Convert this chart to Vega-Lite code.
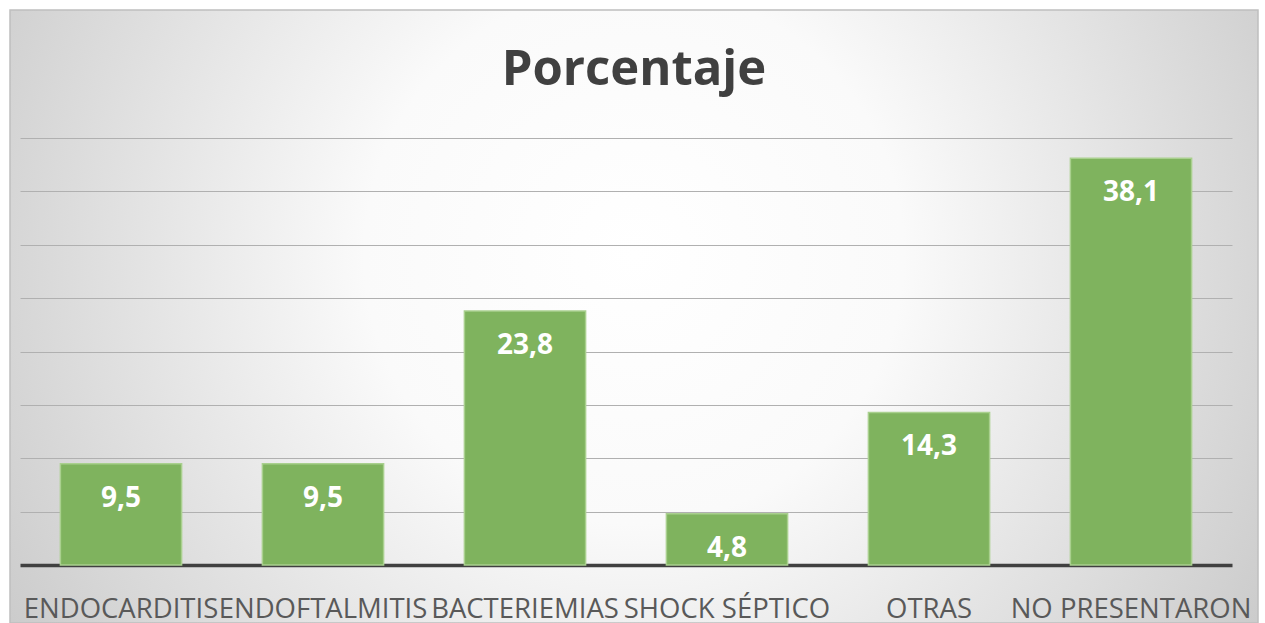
{
  "$schema": "https://vega.github.io/schema/vega-lite/v6.json",
  "width": 1248,
  "height": 613,
  "autosize": {"type": "none"},
  "padding": {"left": 10, "top": 10, "right": 7, "bottom": 0},
  "background": "#ffffff",
  "title": {
    "text": "Porcentaje",
    "font": "Open Sans",
    "fontSize": 49,
    "fontWeight": "bold",
    "color": "#404040",
    "anchor": "middle",
    "baseline": "alphabetic",
    "offset": -124
  },
  "data": {
    "values": [
      {"categoria": "ENDOCARDITIS", "porcentaje": 9.5},
      {"categoria": "ENDOFTALMITIS", "porcentaje": 9.5},
      {"categoria": "BACTERIEMIAS", "porcentaje": 23.8},
      {"categoria": "SHOCK SÉPTICO", "porcentaje": 4.8},
      {"categoria": "OTRAS", "porcentaje": 14.3},
      {"categoria": "NO PRESENTARON", "porcentaje": 38.1}
    ]
  },
  "encoding": {
    "x": {
      "field": "categoria",
      "type": "nominal",
      "sort": null,
      "scale": {"range": [10, 1222], "paddingInner": 0.4, "paddingOuter": 0.2, "align": 0.5},
      "axis": {
        "title": null,
        "offset": -58,
        "orient": "bottom",
        "domainColor": "#404040",
        "domainWidth": 3.5,
        "ticks": false,
        "tickSize": 0,
        "labelAngle": 0,
        "labelFont": "Open Sans",
        "labelFontSize": 27.5,
        "labelColor": "#595959",
        "labelPadding": 30,
        "labelLimit": 400,
        "labelOverlap": false,
        "grid": false
      }
    },
    "y": {
      "field": "porcentaje",
      "type": "quantitative",
      "scale": {"domain": [-5.43, 52], "nice": false, "zero": false},
      "axis": {
        "title": null,
        "values": [5, 10, 15, 20, 25, 30, 35, 40],
        "labels": false,
        "ticks": false,
        "domain": false,
        "grid": true,
        "gridColor": "#b0b0b0",
        "gridWidth": 1
      }
    }
  },
  "layer": [
    {
      "mark": {"type": "bar", "color": "#7fb35e", "stroke": "#a9d08e", "strokeWidth": 1.5},
      "encoding": {"y2": {"datum": 0}}
    },
    {
      "mark": {
        "type": "text",
        "font": "Open Sans",
        "fontWeight": "bold",
        "fontSize": 28,
        "color": "#ffffff",
        "baseline": "top",
        "dy": 21
      },
      "encoding": {
        "text": {"field": "porcentaje", "type": "quantitative", "format": ".1f"}
      }
    }
  ],
  "config": {
    "view": {
      "fill": {
        "gradient": "radial",
        "x1": 0.5, "y1": 0.45, "r1": 0,
        "x2": 0.5, "y2": 0.45, "r2": 0.72,
        "stops": [
          {"offset": 0, "color": "#ffffff"},
          {"offset": 0.3, "color": "#fafafa"},
          {"offset": 1, "color": "#bababa"}
        ]
      },
      "stroke": "#bfbfbf",
      "strokeWidth": 1.5
    },
    "locale": {
      "number": {"decimal": ",", "thousands": ".", "grouping": [3], "currency": ["", " €"]}
    }
  }
}
